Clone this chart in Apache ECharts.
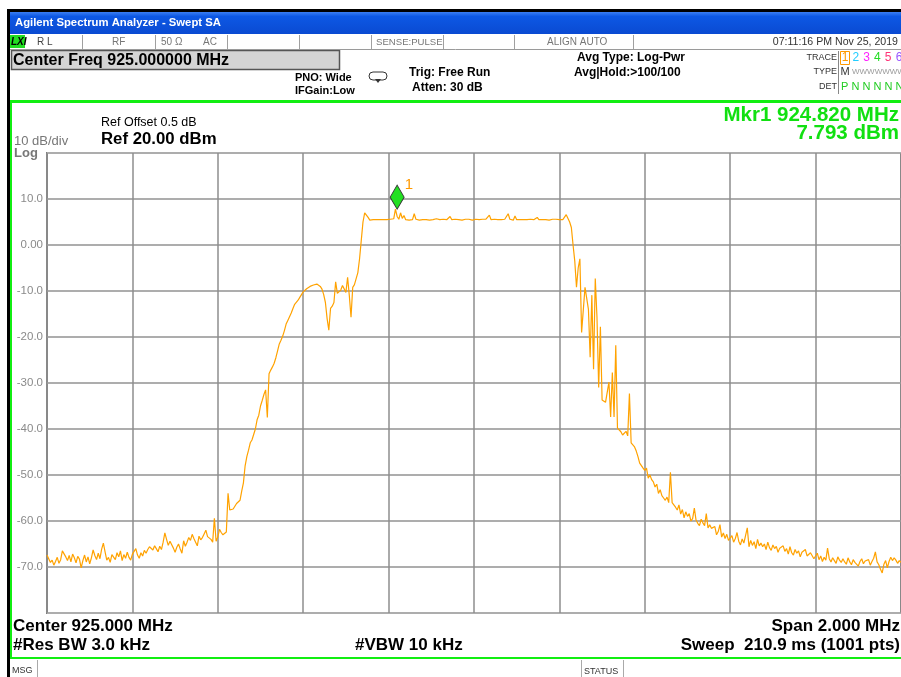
<!DOCTYPE html>
<html><head><meta charset="utf-8">
<script src="https://cdn.jsdelivr.net/npm/echarts@6/dist/echarts.min.js"></script>
<style>html,body{margin:0;padding:0;background:#fff}#c{width:901px;height:677px}</style>
</head><body><div id="c"></div><script>
// ---- data ----
const START_MHZ = 924.0;      // sweep start (center 925 MHz, span 2 MHz)
const STEP_MHZ = 0.004;       // trace point spacing
const levels = [
-67.4,-68.2,-69.0,-68.5,-69.6,-68.8,-67.9,-69.2,-68.4,-66.5,
-66.3,-67.8,-68.6,-67.5,-68.9,-67.2,-68.0,-69.1,-67.7,-68.3,
-70.2,-68.6,-67.4,-68.9,-67.8,-69.3,-68.0,-66.3,-67.5,-68.4,
-67.0,-68.2,-66.1,-64.8,-66.7,-68.5,-67.9,-69.0,-67.3,-67.6,
-68.4,-66.9,-67.8,-66.5,-68.6,-67.3,-68.1,-66.8,-67.9,-68.5,
-67.2,-66.6,-66.0,-67.4,-68.1,-66.9,-67.6,-66.4,-67.0,-66.2,
-65.6,-65.2,-66.3,-65.4,-66.0,-66.7,-65.5,-66.2,-64.6,-62.6,
-64.0,-65.3,-64.4,-64.6,-65.9,-66.8,-65.7,-65.0,-66.1,-67.0,
-64.3,-65.5,-64.6,-63.6,-64.2,-62.9,-63.8,-64.6,-65.4,-63.3,
-64.1,-63.6,-62.8,-62.0,-63.4,-63.6,-64.0,-64.6,-59.4,-64.4,
-63.5,-61.8,-62.5,-63.0,-62.8,-62.4,-54.0,-57.6,-57.9,-57.4,
-56.8,-56.2,-56.5,-55.5,-53.5,-51.7,-48.0,-46.0,-44.6,-43.0,
-42.4,-41.2,-40.0,-38.0,-37.0,-35.0,-33.8,-32.5,-31.5,-37.5,
-28.0,-27.2,-26.5,-25.7,-24.5,-23.0,-21.5,-20.7,-19.8,-18.6,
-17.2,-16.4,-15.6,-14.8,-13.8,-12.9,-12.5,-12.0,-11.4,-10.8,
-10.2,-9.8,-9.5,-9.2,-9.0,-8.8,-8.7,-8.6,-8.5,-8.6,
-9.0,-9.6,-10.8,-12.5,-16.0,-18.5,-13.8,-13.3,-12.5,-8.0,
-10.5,-10.2,-9.8,-8.8,-9.0,-10.3,-7.0,-11.0,-15.7,-9.2,
-8.6,-8.3,-6.0,-3.0,1.0,5.0,7.0,7.1,6.0,5.4,
5.6,5.5,5.4,5.5,5.6,5.5,5.4,5.5,5.6,5.5,
5.5,5.6,5.5,5.7,7.8,6.2,5.6,7.0,5.8,6.4,
5.5,5.6,5.4,5.6,5.5,6.8,5.6,5.5,5.4,5.6,
5.5,5.6,5.5,5.5,5.4,5.6,5.5,5.5,5.7,5.5,
5.5,5.4,5.6,5.5,5.5,5.6,6.2,5.5,5.4,5.6,
5.5,5.5,5.6,5.4,5.5,5.6,5.5,5.6,5.5,5.4,
5.5,5.6,5.5,5.5,5.4,5.6,5.5,5.6,5.5,6.5,
5.5,5.5,5.6,5.4,5.5,5.6,5.5,5.5,5.6,5.5,
6.8,5.6,5.5,5.4,6.3,5.5,5.6,5.5,5.6,5.5,
5.6,5.5,5.4,5.6,5.5,5.5,5.6,6.0,5.5,5.4,
5.5,5.6,5.5,5.5,5.4,5.5,5.6,5.5,5.6,5.5,
5.5,5.4,5.5,5.6,6.6,6.6,5.0,3.8,0.0,-3.5,
-9.2,-5.0,-3.0,-19.0,-19.0,-9.2,-8.8,-14.0,-24.4,-10.9,
-27.0,-7.3,-15.7,-31.0,-17.8,-33.7,-34.0,-34.2,-34.4,-29.8,
-37.4,-27.7,-37.4,-21.8,-39.8,-40.2,-40.6,-41.3,-41.0,-40.5,
-41.5,-32.3,-43.0,-43.3,-43.9,-44.8,-46.0,-47.4,-47.0,-48.5,
-49.0,-48.5,-50.7,-50.0,-51.0,-51.5,-52.6,-52.0,-54.0,-53.2,
-54.5,-55.0,-55.5,-54.8,-56.0,-49.4,-56.0,-55.6,-57.0,-57.6,
-56.5,-58.5,-57.5,-59.3,-58.0,-59.0,-58.4,-60.0,-59.5,-57.2,
-59.8,-60.5,-61.0,-59.6,-60.4,-61.0,-58.4,-61.5,-60.8,-61.6,
-62.0,-61.2,-63.0,-62.3,-60.8,-63.5,-62.6,-63.8,-62.9,-64.2,
-64.0,-63.2,-64.6,-63.8,-62.5,-64.4,-65.2,-63.9,-64.8,-65.0,
-61.5,-65.6,-64.2,-65.3,-64.5,-66.0,-64.0,-65.4,-64.8,-65.6,
-65.0,-66.2,-64.6,-65.8,-66.4,-65.2,-66.0,-65.5,-66.8,-65.9,
-66.3,-65.4,-66.6,-66.0,-67.2,-65.6,-66.9,-67.4,-66.2,-67.0,
-66.5,-67.8,-66.8,-67.0,-66.2,-67.6,-68.0,-66.9,-67.3,-68.2,
-68.0,-67.0,-68.4,-67.6,-68.8,-67.9,-68.5,-65.9,-68.2,-68.9,
-68.0,-68.6,-69.2,-67.8,-68.5,-69.0,-68.2,-68.9,-69.4,-68.0,
-68.9,-69.5,-68.4,-69.0,-68.6,-69.8,-68.8,-68.2,-69.3,-68.7,
-69.0,-68.4,-69.6,-68.8,-68.1,-66.7,-68.9,-69.5,-70.5,-71.3,
-69.4,-68.6,-70.2,-68.8,-67.9,-68.6,-68.0,-68.5,-69.2,-68.6,
-69.0
];
const yTickValues = [10, 0, -10, -20, -30, -40, -50, -60, -70];
const yTickLabels = ['10.0', '0.00', '-10.0', '-20.0', '-30.0', '-40.0', '-50.0', '-60.0', '-70.0'];
const markerFreq = 924.820;
const markerLevel = 7.793;
// ---- end data ----

const FONT = '"Liberation Sans", Arial, sans-serif';
const traceData = levels.map((v, i) => [+(START_MHZ + i * STEP_MHZ).toFixed(3), v]);

function T(x, y, text, size, opt) {
  opt = opt || {};
  return {type: 'text', x: x, y: y, z: 100, silent: true,
    style: {text: text, font: (opt.italic ? 'italic ' : '') + (opt.bold ? 'bold ' : '') + size + 'px ' + FONT,
      fill: opt.color || '#000', align: opt.align || 'left', verticalAlign: 'middle'}};
}
function R(x, y, w, h, fill, stroke, lw) {
  return {type: 'rect', z: 90, silent: true, shape: {x: x, y: y, width: w, height: h},
    style: {fill: fill || 'none', stroke: stroke || null, lineWidth: lw || 1}};
}
function L(x1, y1, x2, y2, color, lw) {
  return {type: 'line', z: 95, silent: true, shape: {x1: x1, y1: y1, x2: x2, y2: y2},
    style: {stroke: color, lineWidth: lw || 1}};
}

const g = [];
// window frame
g.push(R(7, 9, 894, 3, '#000'));
g.push(R(7, 9, 3, 668, '#000'));
g.push({type: 'rect', z: 90, silent: true, shape: {x: 10, y: 12, width: 891, height: 22},
  style: {fill: new echarts.graphic.LinearGradient(0, 0, 0, 1, [
    {offset: 0, color: '#3a7ef2'}, {offset: 0.2, color: '#0d58e4'}, {offset: 1, color: '#0a4ad2'}])}});
g.push(T(15, 23, 'Agilent Spectrum Analyzer - Swept SA', 11.3, {bold: true, color: '#fff'}));
// status row
g.push(L(10, 49.5, 901, 49.5, '#9a9a9a', 1));
g.push(R(10, 35, 15, 13, '#22dd22'));
g.push(T(11, 42, 'LXI', 10, {bold: true, italic: true}));
[82, 155, 227, 299, 371, 443, 514, 633].forEach(x => g.push(L(x + 0.5, 35, x + 0.5, 49, '#a0a0a0', 1)));
g.push(T(37, 42, 'R L', 10, {color: '#444'}));
g.push(T(112, 42, 'RF', 10, {color: '#777'}));
g.push(T(161, 42, '50 Ω', 10, {color: '#777'}));
g.push(T(203, 42, 'AC', 10, {color: '#777'}));
g.push(T(376, 42, 'SENSE:PULSE', 9.6, {color: '#777'}));
g.push(T(547, 42, 'ALIGN AUTO', 10, {color: '#777'}));
g.push(T(898, 42, '07:11:16 PM Nov 25, 2019', 10.6, {color: '#333', align: 'right'}));
// center freq box
g.push(R(11.5, 50.5, 328, 19, '#d4d4d4', '#555', 1.5));
g.push(T(13, 61, 'Center Freq 925.000000 MHz', 16, {bold: true}));
// settings
g.push(T(295, 78, 'PNO: Wide', 11, {bold: true}));
g.push(T(295, 91, 'IFGain:Low', 11, {bold: true}));
g.push({type: 'rect', z: 95, silent: true, shape: {x: 369, y: 72, width: 18, height: 8, r: 4}, style: {fill: 'none', stroke: '#333', lineWidth: 1}});
g.push({type: 'polygon', z: 95, silent: true, shape: {points: [[375, 79], [381, 79], [378, 83]]}, style: {fill: '#333'}});
g.push(T(409, 73, 'Trig: Free Run', 12, {bold: true}));
g.push(T(412, 88, 'Atten: 30 dB', 12, {bold: true}));
g.push(T(577, 58, 'Avg Type: Log-Pwr', 12, {bold: true}));
g.push(T(574, 73, 'Avg|Hold:>100/100', 12, {bold: true}));
g.push(T(837, 58, 'TRACE', 9, {color: '#333', align: 'right'}));
g.push(T(837, 72, 'TYPE', 9, {color: '#333', align: 'right'}));
g.push(T(837, 87, 'DET', 9, {color: '#333', align: 'right'}));
g.push(L(838.5, 51, 838.5, 94, '#888', 1));
g.push(R(840.5, 51.5, 9, 13, 'none', '#ff9900', 1));
const trColors = ['#ff9900', '#22ccff', '#ff22ff', '#22dd22', '#ff3377', '#9955ff'];
['1', '2', '3', '4', '5', '6'].forEach((t, k) => g.push(T(845 + k * 10.8, 58, t, 12, {color: trColors[k], align: 'center'})));
g.push(T(845, 72, 'M', 11, {color: '#333', align: 'center'}));
g.push(T(852, 72, 'WWWWWWWW', 8, {color: '#999'}));
g.push(T(841, 87, 'P N N N N N', 11, {color: '#22cc22'}));
// green frame
g.push(R(10, 100, 891, 3, '#11ee11'));
g.push(R(10, 100, 2, 559, '#11ee11'));
g.push(R(10, 657, 891, 2, '#11ee11'));
// plot annotations
g.push(T(101, 123, 'Ref Offset 0.5 dB', 12.5, {}));
g.push(T(101, 139, 'Ref 20.00 dBm', 16.8, {bold: true}));
g.push(T(14, 141, '10 dB/div', 13, {color: '#777'}));
g.push(T(14, 153, 'Log', 13, {color: '#777', bold: true}));
g.push(T(899, 115, 'Mkr1 924.820 MHz', 20.5, {bold: true, color: '#11e011', align: 'right'}));
g.push(T(899, 133, '7.793 dBm', 20.5, {bold: true, color: '#11e011', align: 'right'}));
// bottom annotations
g.push(T(13, 626, 'Center 925.000 MHz', 17, {bold: true}));
g.push(T(13, 645, '#Res BW 3.0 kHz', 17, {bold: true}));
g.push(T(355, 645, '#VBW 10 kHz', 17, {bold: true}));
g.push(T(900, 626, 'Span 2.000 MHz', 17, {bold: true, align: 'right'}));
g.push(T(900, 645, 'Sweep  210.9 ms (1001 pts)', 17, {bold: true, align: 'right'}));
// message bar
g.push(L(37.5, 660, 37.5, 677, '#aaa', 1));
g.push(L(581.5, 660, 581.5, 677, '#aaa', 1));
g.push(L(623.5, 660, 623.5, 677, '#aaa', 1));
g.push(T(12, 671, 'MSG', 9, {color: '#333'}));
g.push(T(584, 672, 'STATUS', 9, {color: '#333'}));

const chart = echarts.init(document.getElementById('c'), null, {renderer: 'canvas', width: 901, height: 677});
chart.setOption({
  animation: false,
  backgroundColor: '#fff',
  grid: {left: 47, top: 153, right: -2, bottom: 64, show: true, borderColor: '#7d7d7d', borderWidth: 2, backgroundColor: '#fff'},
  xAxis: {type: 'value', min: 924, max: 926, interval: 0.2,
    axisLine: {show: false}, axisTick: {show: false}, axisLabel: {show: false},
    splitLine: {show: true, lineStyle: {color: '#8e8e8e', width: 1.5}}},
  yAxis: {type: 'value', min: -80, max: 20, interval: 10,
    axisLine: {show: false}, axisTick: {show: false},
    axisLabel: {show: true, margin: 4, color: '#8a8a8a', fontSize: 11.5, fontFamily: FONT,
      formatter: function (v) { const k = yTickValues.indexOf(v); return k >= 0 ? yTickLabels[k] : ''; }},
    splitLine: {show: true, lineStyle: {color: '#adadad', width: 2}}},
  series: [{
    type: 'line', data: traceData, symbol: 'none', showSymbol: false, z: 3,
    lineStyle: {color: '#ffa200', width: 1.2},
    markPoint: {
      silent: true, animation: false,
      data: [{coord: [markerFreq, markerLevel], symbol: 'diamond', symbolSize: [14, 24], symbolOffset: [0, -12],
        itemStyle: {color: '#22e022', borderColor: '#333', borderWidth: 1},
        label: {show: true, formatter: '1', position: [15, -7], color: '#ff9900', fontSize: 15, fontFamily: FONT}}]
    }
  }],
  graphic: {elements: g}
});
</script></body></html>
